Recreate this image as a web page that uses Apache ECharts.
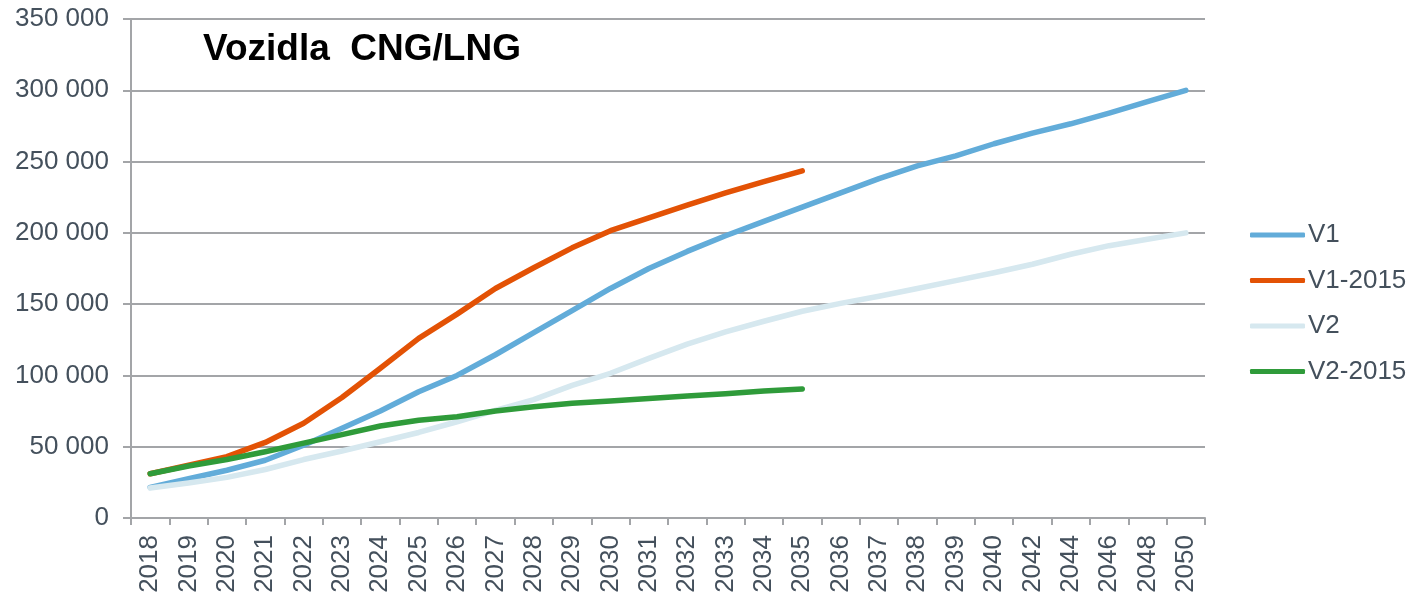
<!DOCTYPE html>
<html>
<head>
<meta charset="utf-8">
<script src="https://cdn.jsdelivr.net/npm/echarts@6/dist/echarts.min.js"></script>
<style>html,body{margin:0;padding:0;background:#fff;}#c{width:1410px;height:598px;}</style>
</head>
<body>
<div id="c"></div>
<script>
const years = ['2018','2019','2020','2021','2022','2023','2024','2025','2026','2027','2028','2029','2030','2031','2032','2033','2034','2035','2036','2037','2038','2039','2040','2042','2044','2046','2048','2050'];
const v1 = [21500,27500,33500,40500,51000,63000,75000,88500,100000,114500,130000,145500,161000,175000,187000,198000,208000,218000,228000,238000,247000,254000,262500,270000,276500,284000,292000,300000];
const v1_2015 = [31000,37000,43000,53000,66500,84500,105000,126000,143000,161000,175500,189500,201500,210500,219500,228000,236000,243500,null,null,null,null,null,null,null,null,null,null];
const v2 = [21000,24500,28500,34000,41000,47000,53500,60000,67500,75500,83000,93000,101500,112000,122000,130500,138000,145000,150500,155500,161000,166500,172000,178000,185000,191000,195500,200000];
const v2_2015 = [31000,36500,41000,46500,52500,58500,64500,68500,71000,75000,78000,80500,82000,83800,85500,87200,89000,90500,null,null,null,null,null,null,null,null,null,null];
const yTicks = [0,50000,100000,150000,200000,250000,300000,350000];
const title = 'Vozidla  CNG/LNG';

const txt = '#44505c';
const gridCol = '#a3a5a8';
function fmt(v){ return String(v).replace(/\B(?=(\d{3})+(?!\d))/g, ' '); }
function mk(name, data, color){
  return {name, type:'line', data, symbol:'none', showSymbol:false, connectNulls:false,
    lineStyle:{width:5.5, color, cap:'round', join:'round'}, itemStyle:{color}, animation:false};
}
const chart = echarts.init(document.getElementById('c'), null, {renderer:'canvas'});
chart.setOption({
  animation:false,
  backgroundColor:'#fff',
  textStyle:{fontFamily:'Liberation Sans, Arial, sans-serif'},
  title:{text:title, left:198, top:26, textStyle:{fontSize:37, fontWeight:'bold', color:'#000', fontFamily:'Liberation Sans, Arial, sans-serif'}},
  grid:{left:131, right:205, top:19, bottom:80, containLabel:false},
  legend:{orient:'vertical', left:1245, top:217, itemWidth:55, itemHeight:5, itemGap:19.5, icon:'roundRect',
    textStyle:{fontSize:26, color:txt, padding:[0,0,0,-2]},
    data:['V1','V1-2015','V2','V2-2015']},
  xAxis:{type:'category', data:years, boundaryGap:true,
    axisLine:{lineStyle:{color:gridCol, width:2}},
    axisTick:{show:true, length:7, lineStyle:{color:gridCol, width:2}},
    axisLabel:{rotate:90, fontSize:26, color:txt, margin:17, interval:0}},
  yAxis:{type:'value', min:0, max:350000, interval:50000,
    axisLine:{show:true, lineStyle:{color:gridCol, width:2}},
    axisTick:{show:true, length:8, lineStyle:{color:gridCol, width:2}},
    splitLine:{lineStyle:{color:gridCol, width:2}},
    axisLabel:{fontSize:26, color:txt, margin:22, formatter:v=>yTicks.includes(v)?fmt(v):''}},
  series:[
    mk('V1', v1, '#62acd9'),
    mk('V1-2015', v1_2015, '#e35205'),
    mk('V2', v2, '#d6e8ef'),
    mk('V2-2015', v2_2015, '#2f9b3a')
  ]
});
</script>
</body>
</html>
